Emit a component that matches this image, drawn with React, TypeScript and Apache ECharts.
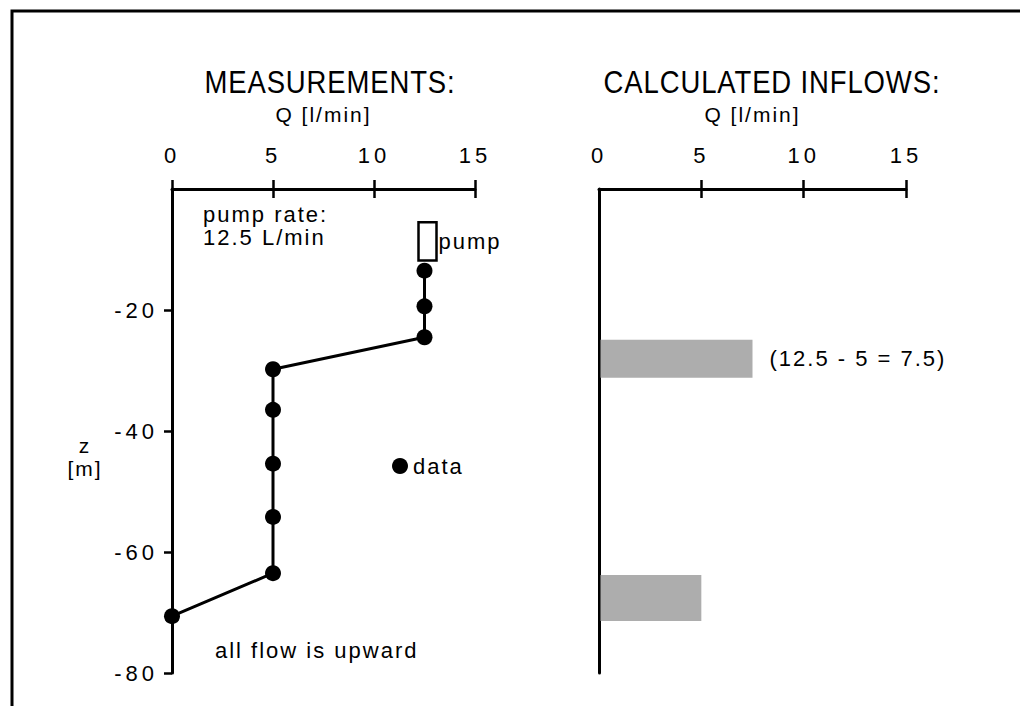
import React, { useEffect, useRef } from "react";
import * as echarts from "echarts";

const FONT = "'Liberation Sans', Arial, sans-serif";
const TICK_FONT = "'Liberation Sans', Helvetica, sans-serif";
const TITLE_FONT = "'Liberation Sans Narrow', 'Liberation Sans', sans-serif";

// Flow axis (Q, l/min) and depth axis (z, m)
const qTicks = [0, 5, 10, 15];
const zTicks = [-80, -60, -40, -20];

// Flowmeter readings down the borehole
const measuredQ = [12.5, 12.5, 12.5, 5, 5, 5, 5, 5, 0];
const measuredZ = [-13.5, -19.4, -24.5, -29.8, -36.5, -45.4, -54.2, -63.5, -70.6];

// Pump position in the well
const pumpQ = [12.5];
const pumpTop = [-5.5];
const pumpBottom = [-11.8];

// Inflow zones derived from the steps in Q
const inflowQ = [7.5, 5];
const inflowTop = [-24.9, -63.8];
const inflowBottom = [-31.2, -71.4];
const inflowNotes = ["(12.5 - 5 = 7.5)", ""];

const BLACK = "#000";
const axisLine = { color: BLACK, width: 3 };
const tickLine = { color: BLACK, width: 2.5 };
const PLOT_H = 484;
const TEXT_SIZE = 22;

function topAxis(gridIndex: number, tickValues?: number[]) {
  return {
    type: "value",
    gridIndex,
    min: qTicks[0],
    max: qTicks[qTicks.length - 1],
    interval: 5,
    position: "top",
    axisLine: { show: true, onZero: false, lineStyle: axisLine },
    axisTick: { show: true, length: 9, lineStyle: tickLine, ...(tickValues ? { customValues: tickValues } : {}) },
    axisLabel: { color: BLACK, fontSize: 22, fontFamily: TICK_FONT, margin: 23 },
    splitLine: { show: false },
    name: "Q [l/min]",
    nameLocation: "middle",
    nameGap: 64,
    nameTextStyle: { color: BLACK, fontSize: 21, fontFamily: FONT },
  };
}

// Companion axis that only draws the downward half of the crossing ticks
function tickAxis(gridIndex: number, tickValues?: number[]) {
  return {
    type: "value",
    gridIndex,
    min: qTicks[0],
    max: qTicks[qTicks.length - 1],
    interval: 5,
    position: "bottom",
    offset: -PLOT_H,
    axisLine: { show: false, onZero: false },
    axisTick: { show: true, length: 9, lineStyle: tickLine, ...(tickValues ? { customValues: tickValues } : {}) },
    axisLabel: { show: false },
    splitLine: { show: false },
  };
}

function titleText(text: string, cx: number) {
  return {
    type: "text",
    x: cx,
    y: 82,
    scaleX: 0.86,
    style: {
      text,
      align: "center",
      verticalAlign: "middle",
      fontSize: 32,
      fontFamily: TITLE_FONT,
      fill: BLACK,
    },
  };
}

export default function App() {
  const ref = useRef<HTMLDivElement>(null);

  useEffect(() => {
    if (!ref.current) return;
    const chart = echarts.init(ref.current, undefined, { renderer: "svg" });

    const option: any = {
      animation: false,
      backgroundColor: "#fff",
      textStyle: { fontFamily: FONT },
      legend: {
        data: ["data"],
        left: 392,
        top: 455,
        padding: 0,
        icon: "circle",
        itemWidth: 16,
        itemHeight: 16,
        selectedMode: false,
        textStyle: { fontSize: TEXT_SIZE, fontFamily: FONT, color: BLACK },
      },
      grid: [
        { left: 172, top: 189, width: 303, height: PLOT_H, containLabel: false },
        { left: 599, top: 189, width: 307, height: PLOT_H, containLabel: false },
      ],
      xAxis: [
        topAxis(0),
        tickAxis(0),
        topAxis(1, [5, 10, 15]),
        tickAxis(1, [5, 10, 15]),
      ],
      yAxis: [
        {
          type: "value",
          gridIndex: 0,
          min: -80,
          max: 0,
          interval: 20,
          axisLine: { show: true, onZero: false, lineStyle: axisLine },
          axisTick: { show: true, length: 8, lineStyle: tickLine, customValues: zTicks },
          axisLabel: { color: BLACK, fontSize: 22, fontFamily: TICK_FONT, margin: 14, customValues: zTicks },
          splitLine: { show: false },
        },
        {
          type: "value",
          gridIndex: 1,
          min: -80,
          max: 0,
          interval: 20,
          axisLine: { show: true, onZero: false, lineStyle: axisLine },
          axisTick: { show: false },
          axisLabel: { show: false },
          splitLine: { show: false },
        },
      ],
      series: [
        {
          type: "line",
          name: "data",
          xAxisIndex: 0,
          yAxisIndex: 0,
          data: measuredQ.map((q, i) => [q, measuredZ[i]]),
          symbol: "circle",
          symbolSize: 16,
          lineStyle: { color: BLACK, width: 3 },
          itemStyle: { color: BLACK },
          z: 3,
        },
        {
          type: "custom",
          name: "pump",
          xAxisIndex: 0,
          yAxisIndex: 0,
          clip: false,
          data: pumpQ.map((q, i) => [q, pumpTop[i], pumpBottom[i]]),
          renderItem: (_params: any, api: any) => {
            const a = api.coord([api.value(0), api.value(1)]);
            const b = api.coord([api.value(0), api.value(2)]);
            const w = 18;
            return {
              type: "group",
              children: [
                {
                  type: "rect",
                  shape: { x: a[0] - w / 2 + 3, y: a[1], width: w, height: b[1] - a[1] },
                  style: { fill: "#fff", stroke: BLACK, lineWidth: 2.5 },
                },
                {
                  type: "text",
                  style: {
                    text: "pump",
                    x: a[0] + w / 2 + 5,
                    y: (a[1] + b[1]) / 2,
                    verticalAlign: "middle",
                    fontSize: TEXT_SIZE,
                    fontFamily: FONT,
                    fill: BLACK,
                  },
                },
              ],
            };
          },
        },
        {
          type: "custom",
          name: "inflow",
          xAxisIndex: 2,
          yAxisIndex: 1,
          clip: false,
          data: inflowQ.map((q, i) => [q, inflowTop[i], inflowBottom[i]]),
          renderItem: (params: any, api: any) => {
            const a = api.coord([0, api.value(1)]);
            const b = api.coord([api.value(0), api.value(2)]);
            const note = inflowNotes[params.dataIndex];
            return {
              type: "group",
              children: [
                {
                  type: "rect",
                  shape: { x: a[0] + 1.5, y: a[1], width: b[0] - a[0] - 1.5, height: b[1] - a[1] },
                  style: { fill: "#adadad" },
                },
                {
                  type: "text",
                  style: {
                    text: note,
                    x: b[0] + 17,
                    y: (a[1] + b[1]) / 2,
                    verticalAlign: "middle",
                    fontSize: TEXT_SIZE,
                    fontFamily: FONT,
                    fill: BLACK,
                  },
                },
              ],
            };
          },
        },
      ],
      graphic: [
        {
          type: "polyline",
          shape: { points: [[12, 706], [12, 11], [1020, 11]] },
          style: { stroke: BLACK, lineWidth: 3, fill: "none" },
        },
        titleText("MEASUREMENTS:", 330),
        titleText("CALCULATED INFLOWS:", 772),
        {
          type: "text",
          x: 85,
          y: 457,
          style: {
            text: "z\n[m]",
            align: "center",
            verticalAlign: "middle",
            lineHeight: 23,
            fontSize: 21,
            fontFamily: FONT,
            fill: BLACK,
          },
        },
        {
          type: "text",
          x: 203,
          y: 203,
          style: {
            text: "pump rate:\n12.5 L/min",
            verticalAlign: "top",
            lineHeight: 23,
            fontSize: TEXT_SIZE,
            fontFamily: FONT,
            fill: BLACK,
          },
        },
        {
          type: "text",
          x: 215,
          y: 650,
          style: {
            text: "all flow is upward",
            verticalAlign: "middle",
            fontSize: TEXT_SIZE,
            fontFamily: FONT,
            fill: BLACK,
          },
        },
      ],
    };

    chart.setOption(option);
    return () => chart.dispose();
  }, []);

  return (
    <>
      <style>{`
        #flow-chart svg text { letter-spacing: 2px; }
        #flow-chart svg text[style*="Helvetica"] { letter-spacing: 4px; }
        #flow-chart svg text[style*="Narrow"] { letter-spacing: 1px; }
      `}</style>
      <div
        id="flow-chart"
        ref={ref}
        style={{ position: "absolute", left: 0, top: 0, width: 1020, height: 706, background: "#fff" }}
      />
    </>
  );
}
